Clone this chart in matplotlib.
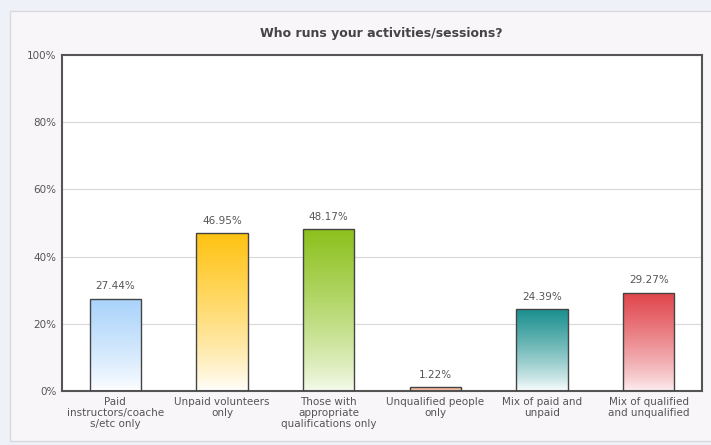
import matplotlib
matplotlib.use("Agg")
import matplotlib.pyplot as plt
import numpy as np
from matplotlib.colors import LinearSegmentedColormap
from matplotlib.patches import Rectangle

categories = ["Paid\ninstructors/coache\ns/etc only", "Unpaid volunteers\nonly",
              "Those with\nappropriate\nqualifications only", "Unqualified people\nonly",
              "Mix of paid and\nunpaid", "Mix of qualified\nand unqualified"]
values = [27.44, 46.95, 48.17, 1.22, 24.39, 29.27]
top_colors = ["#a9d3fb", "#ffc312", "#8cc11c", "#f5b598", "#1a8f8f", "#e0444a"]
bottom_colors = ["#ffffff", "#ffffff", "#f6fbee", "#f8c4aa", "#ffffff", "#fdf0f2"]
yticks = [0, 20, 40, 60, 80, 100]

W, H = 711, 445
fig = plt.figure(figsize=(W/100, H/100), dpi=100)
fig.patch.set_facecolor("#eef2f8")
fig.patches.append(Rectangle((10/W, 4/H), 1.0, (430)/H, transform=fig.transFigure,
                             facecolor="#f8f6f9", edgecolor="#d8d8de", lw=1, zorder=-10))

ax = fig.add_axes([62/W, (H-391)/H, 640/W, 336/H])
ax.set_zorder(1)
ax.set_facecolor("white")
x = np.arange(len(values))
bars = ax.bar(x, values, width=0.48, edgecolor="#444444", linewidth=1.0, facecolor="none", zorder=3)
for b, tc, bc in zip(bars, top_colors, bottom_colors):
    cmap = LinearSegmentedColormap.from_list("g", [bc, tc])
    grad = (np.linspace(0, 1, 256) ** 0.8).reshape(-1, 1)
    x0, y0 = b.get_x(), b.get_y()
    im = ax.imshow(grad, cmap=cmap, aspect="auto", origin="lower", vmin=0, vmax=1,
                   extent=[x0, x0 + b.get_width(), y0, y0 + b.get_height()], zorder=2)
    im.set_clip_path(b)
for xi, v in zip(x, values):
    ax.text(xi, v + 2.2, f"{v:.2f}%", ha="center", va="bottom", fontsize=7.5, color="#555555")

ax.set_xlim(-0.5, len(values) - 0.5)
ax.set_ylim(0, 100)
ax.set_yticks(yticks)
ax.set_yticklabels([f"{t}%" for t in yticks], fontsize=7.5, color="#555555")
ax.set_xticks(x)
ax.set_xticklabels(categories, fontsize=7.5, color="#555555", linespacing=1.15)
ax.tick_params(length=0, pad=4)
ax.grid(axis="y", color="#d8d8d8", lw=0.8, zorder=1)
ax.set_axisbelow(True)
for s in ax.spines.values():
    s.set_color("#555555")
    s.set_linewidth(1.5)
fig.text(0.5 + 26/W, (H-33)/H, "Who runs your activities/sessions?", ha="center", va="center",
         fontsize=9, fontweight="bold", color="#444444")
fig.savefig("out.png", dpi=100, facecolor=fig.get_facecolor())
